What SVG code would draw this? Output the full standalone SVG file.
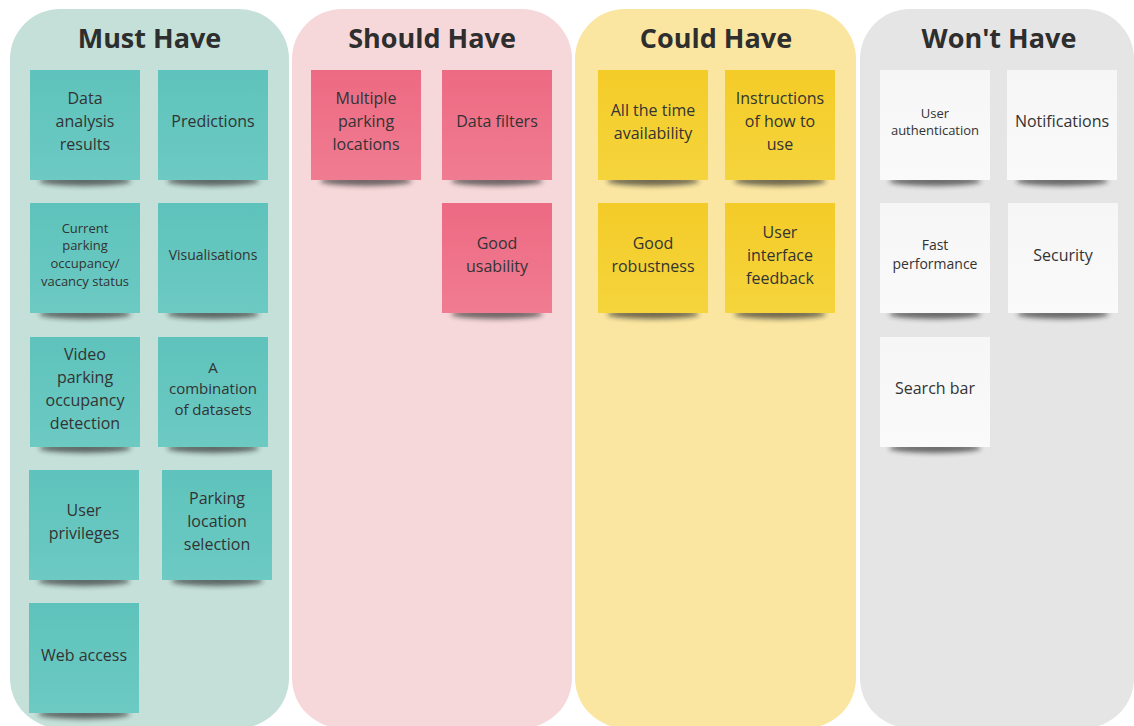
<svg xmlns="http://www.w3.org/2000/svg" width="1134" height="726" viewBox="0 0 1134 726">
  <defs>
    <style>
      .title { font-family: "Open Sans", "Liberation Sans", sans-serif; font-weight: 700; font-size: 27px; fill: #2e2e2e; text-anchor: middle; }
      .txt { font-family: "Open Sans", "Liberation Sans", sans-serif; font-size: 16px; fill: #333333; text-anchor: middle; }
      .s15 { font-size: 15px; }
      .s14 { font-size: 14px; }
      .s13 { font-size: 13px; }
      .shadow { fill: #1c1c1c; opacity: 0.62; filter: url(#blur); }
      .teal { fill: url(#gTeal); }
      .pink { fill: url(#gPink); }
      .yellow { fill: url(#gYellow); }
      .white { fill: url(#gWhite); }
    </style>
    <filter id="blur" x="-20%" y="-100%" width="140%" height="300%">
      <feGaussianBlur stdDeviation="2.6"/>
    </filter>
    <linearGradient id="gTeal" x1="0" y1="0" x2="0" y2="1">
      <stop offset="0" stop-color="#5ec3bc"/>
      <stop offset="1" stop-color="#6ccac3"/>
    </linearGradient>
    <linearGradient id="gPink" x1="0" y1="0" x2="0" y2="1">
      <stop offset="0" stop-color="#ed6a83"/>
      <stop offset="1" stop-color="#f07c91"/>
    </linearGradient>
    <linearGradient id="gYellow" x1="0" y1="0" x2="0" y2="1">
      <stop offset="0" stop-color="#f4cc28"/>
      <stop offset="1" stop-color="#f5d43c"/>
    </linearGradient>
    <linearGradient id="gWhite" x1="0" y1="0" x2="0" y2="1">
      <stop offset="0" stop-color="#f6f6f6"/>
      <stop offset="1" stop-color="#fafafa"/>
    </linearGradient>
  </defs>

  <rect width="1134" height="726" fill="#ffffff"/>

  <!-- Priority lanes -->
  <g id="lane-must">
    <rect x="10" y="9" width="279" height="719" rx="50" fill="#c4e0d9"/>
    <text class="title" x="149.5" y="48">Must Have</text>
  </g>
  <g id="lane-should">
    <rect x="292" y="9" width="280" height="719" rx="50" fill="#f7d8da"/>
    <text class="title" x="432" y="48">Should Have</text>
  </g>
  <g id="lane-could">
    <rect x="575" y="9" width="281" height="719" rx="50" fill="#fae6a0"/>
    <text class="title" x="716" y="48">Could Have</text>
  </g>
  <g id="lane-wont">
    <rect x="860" y="9" width="274" height="719" rx="50" fill="#e5e5e5"/>
    <text class="title" x="999" y="48">Won't Have</text>
  </g>

  <!-- Connectors: none in this board -->
  <g id="connectors"></g>

  <!-- Must Have notes -->
  <g id="note-data-analysis">
    <ellipse class="shadow" cx="85" cy="181" rx="46" ry="5"/>
    <rect class="teal" x="30" y="70" width="110" height="110"/>
    <text class="txt" x="85" y="104">Data<tspan x="85" dy="23">analysis</tspan><tspan x="85" dy="23">results</tspan></text>
  </g>
  <g id="note-predictions">
    <ellipse class="shadow" cx="213" cy="181" rx="46" ry="5"/>
    <rect class="teal" x="158" y="70" width="110" height="110"/>
    <text class="txt" x="213" y="127">Predictions</text>
  </g>
  <g id="note-current-occupancy">
    <ellipse class="shadow" cx="85" cy="314" rx="46" ry="5"/>
    <rect class="teal" x="30" y="203" width="110" height="110"/>
    <text class="txt s13" x="85" y="232.5">Current<tspan x="85" dy="17.8">parking</tspan><tspan x="85" dy="17.8">occupancy/</tspan><tspan x="85" dy="17.8">vacancy status</tspan></text>
  </g>
  <g id="note-visualisations">
    <ellipse class="shadow" cx="213" cy="314" rx="46" ry="5"/>
    <rect class="teal" x="158" y="203" width="110" height="110"/>
    <text class="txt s14" x="213" y="260">Visualisations</text>
  </g>
  <g id="note-video-detection">
    <ellipse class="shadow" cx="85" cy="448" rx="46" ry="5"/>
    <rect class="teal" x="30" y="337" width="110" height="110"/>
    <text class="txt" x="85" y="359.5">Video<tspan x="85" dy="23">parking</tspan><tspan x="85" dy="23">occupancy</tspan><tspan x="85" dy="23">detection</tspan></text>
  </g>
  <g id="note-dataset-combination">
    <ellipse class="shadow" cx="213" cy="448" rx="46" ry="5"/>
    <rect class="teal" x="158" y="337" width="110" height="110"/>
    <text class="txt s15" x="213" y="373">A<tspan x="213" dy="21">combination</tspan><tspan x="213" dy="21">of datasets</tspan></text>
  </g>
  <g id="note-user-privileges">
    <ellipse class="shadow" cx="84" cy="581" rx="46" ry="5"/>
    <rect class="teal" x="29" y="470" width="110" height="110"/>
    <text class="txt" x="84" y="515.5">User<tspan x="84" dy="23">privileges</tspan></text>
  </g>
  <g id="note-location-selection">
    <ellipse class="shadow" cx="217" cy="581" rx="46" ry="5"/>
    <rect class="teal" x="162" y="470" width="110" height="110"/>
    <text class="txt" x="217" y="503.5">Parking<tspan x="217" dy="23">location</tspan><tspan x="217" dy="23">selection</tspan></text>
  </g>
  <g id="note-web-access">
    <ellipse class="shadow" cx="84" cy="714" rx="46" ry="5"/>
    <rect class="teal" x="29" y="603" width="110" height="110"/>
    <text class="txt" x="84" y="660.5">Web access</text>
  </g>

  <!-- Should Have notes -->
  <g id="note-multiple-locations">
    <ellipse class="shadow" cx="366" cy="181" rx="46" ry="5"/>
    <rect class="pink" x="311" y="70" width="110" height="110"/>
    <text class="txt" x="366" y="104">Multiple<tspan x="366" dy="23">parking</tspan><tspan x="366" dy="23">locations</tspan></text>
  </g>
  <g id="note-data-filters">
    <ellipse class="shadow" cx="497" cy="181" rx="46" ry="5"/>
    <rect class="pink" x="442" y="70" width="110" height="110"/>
    <text class="txt" x="497" y="127">Data filters</text>
  </g>
  <g id="note-good-usability">
    <ellipse class="shadow" cx="497" cy="314" rx="46" ry="5"/>
    <rect class="pink" x="442" y="203" width="110" height="110"/>
    <text class="txt" x="497" y="249">Good<tspan x="497" dy="23">usability</tspan></text>
  </g>

  <!-- Could Have notes -->
  <g id="note-availability">
    <ellipse class="shadow" cx="653" cy="181" rx="46" ry="5"/>
    <rect class="yellow" x="598" y="70" width="110" height="110"/>
    <text class="txt" x="653" y="115.5">All the time<tspan x="653" dy="23">availability</tspan></text>
  </g>
  <g id="note-instructions">
    <ellipse class="shadow" cx="780" cy="181" rx="46" ry="5"/>
    <rect class="yellow" x="725" y="70" width="110" height="110"/>
    <text class="txt" x="780" y="104">Instructions<tspan x="780" dy="23">of how to</tspan><tspan x="780" dy="23">use</tspan></text>
  </g>
  <g id="note-robustness">
    <ellipse class="shadow" cx="653" cy="314" rx="46" ry="5"/>
    <rect class="yellow" x="598" y="203" width="110" height="110"/>
    <text class="txt" x="653" y="249">Good<tspan x="653" dy="23">robustness</tspan></text>
  </g>
  <g id="note-ui-feedback">
    <ellipse class="shadow" cx="780" cy="314" rx="46" ry="5"/>
    <rect class="yellow" x="725" y="203" width="110" height="110"/>
    <text class="txt" x="780" y="237.5">User<tspan x="780" dy="23">interface</tspan><tspan x="780" dy="23">feedback</tspan></text>
  </g>

  <!-- Won't Have notes -->
  <g id="note-user-authentication">
    <ellipse class="shadow" cx="935" cy="181" rx="46" ry="5"/>
    <rect class="white" x="880" y="70" width="110" height="110"/>
    <text class="txt s13" x="935" y="117.5">User<tspan x="935" dy="17">authentication</tspan></text>
  </g>
  <g id="note-notifications">
    <ellipse class="shadow" cx="1062" cy="181" rx="46" ry="5"/>
    <rect class="white" x="1007" y="70" width="110" height="110"/>
    <text class="txt" x="1062" y="127">Notifications</text>
  </g>
  <g id="note-fast-performance">
    <ellipse class="shadow" cx="935" cy="314" rx="46" ry="5"/>
    <rect class="white" x="880" y="203" width="110" height="110"/>
    <text class="txt s14" x="935" y="250">Fast<tspan x="935" dy="19">performance</tspan></text>
  </g>
  <g id="note-security">
    <ellipse class="shadow" cx="1063" cy="314" rx="46" ry="5"/>
    <rect class="white" x="1008" y="203" width="110" height="110"/>
    <text class="txt" x="1063" y="260.5">Security</text>
  </g>
  <g id="note-search-bar">
    <ellipse class="shadow" cx="935" cy="448" rx="46" ry="5"/>
    <rect class="white" x="880" y="337" width="110" height="110"/>
    <text class="txt" x="935" y="393.5">Search bar</text>
  </g>
</svg>
